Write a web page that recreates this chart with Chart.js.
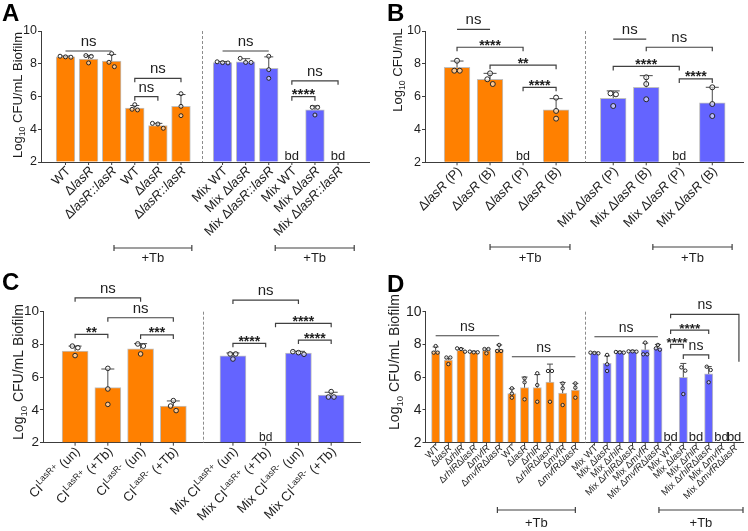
<!DOCTYPE html>
<html>
<head>
<meta charset="utf-8">
<script src="https://cdn.jsdelivr.net/npm/chart.js@4.4.1/dist/chart.umd.min.js"></script>
<style>
  html, body { margin: 0; padding: 0; background: #fff; }
  #wrap { position: relative; width: 748px; height: 531px; overflow: hidden; }
  #wrap canvas { position: absolute; }
</style>
</head>
<body>
<div id="wrap">
  <canvas id="panelA" width="374" height="265" style="left:0;top:0"></canvas>
  <canvas id="panelB" width="374" height="265" style="left:374px;top:0"></canvas>
  <canvas id="panelC" width="374" height="266" style="left:0;top:265px"></canvas>
  <canvas id="panelD" width="374" height="266" style="left:374px;top:265px"></canvas>
</div>
<script>
'use strict'

const FONT = "'Liberation Sans', Arial, Helvetica, sans-serif"
const ORANGE = '#ff8000'
const BLUE = '#6464ff'
const INK = '#1e1e1e'
const AXIS = '#3c3c3c'

// markup in labels: _italic_  ^superscript^  ~subscript~

// ---- panel A: biofilm, single vs mixed culture
const aLabels = ['WT', 'Δ_lasR_', 'Δ_lasR_::_lasR_', 'WT', 'Δ_lasR_', 'Δ_lasR_::_lasR_',
  'Mix WT', 'Mix Δ_lasR_', 'Mix Δ_lasR_::_lasR_', 'Mix WT', 'Mix Δ_lasR_', 'Mix Δ_lasR_::_lasR_']
const aMeans = [8.42, 8.29, 8.17, 5.3, 4.22, 5.4, 8.07, 8.11, 7.72, null, 5.18, null]
const aSD = [0.05, 0.22, 0.4, 0.15, 0.14, 0.72, 0.07, 0.2, 0.7, null, 0.25, null]
const aDots = [[8.4, 8.46, 8.42], [8.5, 8.45, 8.05], [8.62, 8.09, 7.82], [5.5, 5.22, 5.18],
  [4.36, 4.32, 4.06], [6.17, 5.4, 4.83], [8.05, 8.12, 8.07], [8.33, 8.08, 8.08],
  [8.46, 7.64, 7.11], null, [5.34, 5.34, 4.87], null]
// [from bar, to bar, level, label, kind]
const aSig = [
  [0, 2, 8.78, 'ns', 'line'],
  [3, 5, 7.11, 'ns', 'bracket'],
  [3, 4, 5.99, 'ns', 'bracket'],
  [6, 8, 8.78, 'ns', 'line'],
  [9, 11, 6.96, 'ns', 'bracket'],
  [9, 10, 5.99, '****', 'bracket'],
]
const aTb = [[2.1, 5.47], [8.28, 11.7]]

// ---- panel B: planktonic (P) vs biofilm (B)
const bLabels = ['Δ_lasR_ (P)', 'Δ_lasR_ (B)', 'Δ_lasR_ (P)', 'Δ_lasR_ (B)',
  'Mix Δ_lasR_ (P)', 'Mix Δ_lasR_ (B)', 'Mix Δ_lasR_ (P)', 'Mix Δ_lasR_ (B)']
const bMeans = [7.79, 7.06, null, 5.19, 5.9, 6.57, null, 5.63]
const bSD = [0.38, 0.36, null, 0.69, 0.45, 0.71, null, 0.94]
const bDots = [[8.19, 7.58, 7.58], [7.42, 7.06, 6.77], null, [5.94, 5.13, 4.66],
  [6.2, 6.14, 5.43], [7.18, 6.77, 5.84], null, [6.57, 5.55, 4.82]]
const bSig = [
  [0, 1, 10.1, 'ns', 'line'],
  [0, 2, 9.01, '****', 'bracket'],
  [1, 3, 7.92, '**', 'bracket'],
  [2, 3, 6.57, '****', 'bracket'],
  [4, 5, 9.5, 'ns', 'line'],
  [5, 7, 9.01, 'ns', 'bracket'],
  [4, 6, 7.84, '****', 'bracket'],
  [6, 7, 7.08, '****', 'bracket'],
]
const bTb = [[1.0, 3.42], [5.2, 7.6]]

// ---- panel C: clinical isolates
const cLabels = ['CI^LasR+^ (un)', 'CI^LasR+^ (+Tb)', 'CI^LasR-^ (un)', 'CI^LasR-^ (+Tb)',
  'Mix CI^LasR+^ (un)', 'Mix CI^LasR+^ (+Tb)', 'Mix CI^LasR-^ (un)', 'Mix CI^LasR-^ (+Tb)']
const cMeans = [7.6, 5.36, 7.74, 4.24, 7.3, null, 7.48, 4.91]
const cSD = [0.3, 1.14, 0.31, 0.31, 0.18, null, 0.1, 0.17]
const cDots = [[7.9, 7.8, 7.32], [6.54, 5.28, 4.34], [8.03, 7.9, 7.42], [4.57, 4.24, 3.96],
  [7.42, 7.42, 7.11], null, [7.56, 7.5, 7.4], [5.12, 4.79, 4.79]]
const cSig = [
  [0, 2, 10.85, 'ns', 'bracket'],
  [1, 3, 9.63, 'ns', 'bracket'],
  [0, 1, 8.62, '**', 'bracket'],
  [2, 3, 8.58, '***', 'bracket'],
  [4, 6, 10.71, 'ns', 'bracket'],
  [5.3, 7, 9.29, '****', 'bracket'],
  [4, 5, 8.07, '****', 'bracket'],
  [6, 7, 8.27, '****', 'bracket'],
]
const cTb = []

// ---- panel D: QS mutants
const dLabels = ['WT', 'Δ_lasR_', 'Δ_rhlR_', 'Δ_rhlR_Δ_lasR_', 'Δ_mvfR_', 'Δ_mvfR_Δ_lasR_',
  'WT', 'Δ_lasR_', 'Δ_rhlR_', 'Δ_rhlR_Δ_lasR_', 'Δ_mvfR_', 'Δ_mvfR_Δ_lasR_',
  'Mix WT', 'Mix Δ_lasR_', 'Mix Δ_rhlR_', 'Mix Δ_rhlR_Δ_lasR_', 'Mix Δ_mvfR_', 'Mix Δ_mvfR_Δ_lasR_',
  'Mix WT', 'Mix Δ_lasR_', 'Mix Δ_rhlR_', 'Mix Δ_rhlR_Δ_lasR_', 'Mix Δ_mvfR_', 'Mix Δ_mvfR_Δ_lasR_']
const dMeans = [7.6, 7.05, 7.64, 7.54, 7.63, 7.7, 5.0, 5.36, 5.36, 5.7, 5.03, 5.22,
  7.48, 6.85, 7.53, 7.56, 7.68, 7.8, null, 5.99, null, 6.2, null, null]
const dSD = [0.25, 0.12, 0.12, 0.05, 0.1, 0.27, 0.3, 0.65, 0.8, 1.1, 0.65, 0.4,
  0.05, 0.45, 0.05, 0.08, 0.4, 0.2, null, 0.85, null, 0.45, null, null]
const dDots = [[7.9, 7.5, 7.5], [7.2, 7.2, 6.8], [7.76, 7.72, 7.56], [7.56, 7.52, 7.52],
  [7.72, 7.72, 7.46], [7.97, 7.6, 7.6], [5.32, 5.0, 4.75], [5.93, 5.69, 4.65],
  [6.24, 5.52, 4.5], [6.38, 6.38, 4.5], [5.62, 5.32, 4.3], [5.62, 5.36, 4.75],
  [7.5, 7.48, 7.46], [7.36, 6.79, 6.38], [7.54, 7.52, 7.5], [7.58, 7.56, 7.58],
  [8.11, 7.4, 7.4], [7.97, 7.76, 7.68], null, [6.6, 6.4, 4.97],
  null, [6.64, 6.44, 5.69], null, null]
const dSig = [
  [0, 5, 8.53, 'ns', 'line'],
  [6, 11, 7.25, 'ns', 'line'],
  [12, 17, 8.47, 'ns', 'line'],
  [18, 23.38, 9.84, 'ns', 'bracket', 6.95],
  [18, 21, 8.88, '****', 'bracket'],
  [18, 19, 8.0, '****', 'bracket'],
  [19, 21, 7.36, 'ns', 'bracket'],
]
const dTb = [[4.86, 11.0], [17.08, 23.7]]

const panels = [
  {
    id: 'panelA', letter: 'A', letterX: 2, letterY: 21, W: 374, H: 265,
    labels: aLabels, means: aMeans, sd: aSD, dots: aDots, sig: aSig, tb: aTb,
    title: 'Log~10~ CFU/mL Biofilm', titleX: 21.5, titleY: 95,
    axisX: 41, top: 31, bottom: 162, right: 373, xMin: -1.06, xMax: 13.14,
    split: 6, gap: 0.8, divider: 5.9, barW: 18.7, capW: 9, dotR: 2, thr: 0.27, spread: 0.235,
    tickSize: 12.5, titleSize: 13, labSize: 13, labDx: 3, labDy: 7, nsSize: 15, starSize: 15,
    bdSize: 13, tbY: 248, tbTextY: 262,
  },
  {
    id: 'panelB', letter: 'B', letterX: 13, letterY: 21, W: 374, H: 265,
    labels: bLabels, means: bMeans, sd: bSD, dots: bDots, sig: bSig, tb: bTb,
    title: 'Log~10~ CFU/mL', titleX: 27.5, titleY: 70,
    axisX: 51, top: 31, bottom: 162.3, right: 371.7, xMin: -0.97, xMax: 8.66,
    split: 4, gap: 0.73, divider: 3.87, barW: 25.7, capW: 13, dotR: 2.5, thr: 0.3, spread: 0.165,
    tickSize: 12.5, titleSize: 13, labSize: 13, labDx: 3, labDy: 7, nsSize: 15, starSize: 14,
    bdSize: 12.5, tbY: 247, tbTextY: 262,
  },
  {
    id: 'panelC', letter: 'C', letterX: 2, letterY: 25, W: 374, H: 266,
    labels: cLabels, means: cMeans, sd: cSD, dots: cDots, sig: cSig, tb: cTb,
    title: 'Log~10~ CFU/mL Biofilm', titleX: 23, titleY: 107,
    axisX: 43, top: 46.7, bottom: 177.7, right: 360, xMin: -0.98, xMax: 8.7,
    split: 4, gap: 0.82, divider: 3.91, barW: 26, capW: 13, dotR: 2.3, thr: 0.3, spread: 0.17,
    tickSize: 13.5, titleSize: 14, labSize: 13, labDx: 3, labDy: 7, nsSize: 15, starSize: 14,
    bdSize: 12, tbY: 0, tbTextY: 0,
  },
  {
    id: 'panelD', letter: 'D', letterX: 13, letterY: 27, W: 374, H: 266,
    labels: dLabels, means: dMeans, sd: dSD, dots: dDots, sig: dSig, tb: dTb,
    title: 'Log~10~ CFU/mL Biofilm', titleX: 25, titleY: 97,
    axisX: 51.5, top: 46.7, bottom: 177.7, right: 373, xMin: -0.8, xMax: 24.2,
    split: 12, gap: 0.5, divider: 11.74, barW: 8.3, capW: 6, dotR: 1.7, thr: 0.2, spread: 0.31,
    tickSize: 14, titleSize: 14, labSize: 9.6, labDx: 2, labDy: 4, nsSize: 14, starSize: 13.5,
    bdSize: 13, tbY: 245, tbTextY: 262,
  },
]

function xOf(p, i) {
  return i + (i >= p.split - 0.5 ? p.gap : 0)
}

function parseRich(str) {
  const out = []
  let italic = false
  let sup = false
  let sub = false
  let buf = ''
  const push = () => {
    if (buf) out.push({ t: buf, italic, sup, sub })
    buf = ''
  }
  for (const ch of str) {
    if (ch === '_') { push(); italic = !italic }
    else if (ch === '^') { push(); sup = !sup }
    else if (ch === '~') { push(); sub = !sub }
    else buf += ch
  }
  push()
  return out
}

function segFont(seg, size) {
  const s = seg.sup || seg.sub ? size * 0.68 : size
  return `${seg.italic ? 'italic ' : ''}${s}px ${FONT}`
}

function drawRich(ctx, str, x, y, size, align) {
  const segs = parseRich(str)
  let w = 0
  segs.forEach((s) => {
    ctx.font = segFont(s, size)
    s.w = ctx.measureText(s.t).width
    w += s.w
  })
  let cx = align === 'right' ? x - w : align === 'center' ? x - w / 2 : x
  ctx.textAlign = 'left'
  segs.forEach((s) => {
    ctx.font = segFont(s, size)
    const dy = s.sup ? -size * 0.36 : s.sub ? size * 0.28 : 0
    ctx.fillText(s.t, cx, y + dy)
    cx += s.w
  })
}

function seg(ctx, x1, y1, x2, y2) {
  ctx.beginPath()
  ctx.moveTo(x1, y1)
  ctx.lineTo(x2, y2)
  ctx.stroke()
}

// Prism-style spread: points with close values sit side by side
function spreadOffsets(vals, thr, spread) {
  const order = vals.map((_, i) => i).sort((a, b) => vals[b] - vals[a])
  const off = vals.map(() => 0)
  let group = [order[0]]
  const flush = () => {
    group.forEach((k, j) => { off[k] = (j - (group.length - 1) / 2) * spread })
  }
  for (let j = 1; j < order.length; j++) {
    if (Math.abs(vals[order[j]] - vals[group[group.length - 1]]) < thr) group.push(order[j])
    else { flush(); group = [order[j]] }
  }
  flush()
  return off
}

function drawErrorBars(chart, p) {
  const { ctx, scales: { x: xs, y: ys } } = chart
  ctx.save()
  ctx.strokeStyle = '#4a4a4a'
  ctx.lineWidth = 1
  p.means.forEach((m, i) => {
    if (m === null || !p.sd[i]) return
    const x = xs.getPixelForValue(xOf(p, i))
    const y0 = ys.getPixelForValue(m)
    const y1 = ys.getPixelForValue(m + p.sd[i])
    seg(ctx, x, y0, x, y1)
    seg(ctx, x - p.capW / 2, y1, x + p.capW / 2, y1)
  })
  ctx.restore()
}

function drawDecor(chart, p) {
  const { ctx, chartArea: area, scales: { x: xs, y: ys } } = chart
  ctx.save()

  // dashed divider between single and mixed culture
  ctx.strokeStyle = '#8c8c8c'
  ctx.lineWidth = 1
  ctx.setLineDash([3, 2])
  const dvx = Math.round(xs.getPixelForValue(p.divider)) + 0.5
  seg(ctx, dvx, area.top, dvx, area.bottom)
  ctx.setLineDash([])

  // x ticks + rotated category labels
  ctx.strokeStyle = AXIS
  ctx.fillStyle = INK
  p.labels.forEach((lab, i) => {
    const x = xs.getPixelForValue(xOf(p, i))
    seg(ctx, x, area.bottom, x, area.bottom + 3)
    ctx.save()
    ctx.translate(x + p.labDx, area.bottom + p.labDy)
    ctx.rotate(-Math.PI / 4)
    ctx.textBaseline = 'middle'
    drawRich(ctx, lab, 0, 0, p.labSize, 'right')
    ctx.restore()
  })

  // below detection
  ctx.textBaseline = 'alphabetic'
  p.means.forEach((m, i) => {
    if (m === null) drawRich(ctx, 'bd', xs.getPixelForValue(xOf(p, i)), area.bottom - 2, p.bdSize, 'center')
  })

  // significance lines and brackets
  ctx.strokeStyle = '#404040'
  ctx.lineWidth = 1.2
  p.sig.forEach(([i1, i2, v, label, kind, dropTo]) => {
    const x1 = xs.getPixelForValue(xOf(p, i1))
    const x2 = xs.getPixelForValue(xOf(p, i2))
    const y = ys.getPixelForValue(v)
    ctx.beginPath()
    if (kind === 'bracket') {
      const yEnd = dropTo != null ? ys.getPixelForValue(dropTo) : y + 4
      ctx.moveTo(x1, y + 4)
      ctx.lineTo(x1, y)
      ctx.lineTo(x2, y)
      ctx.lineTo(x2, yEnd)
    } else {
      ctx.moveTo(x1, y)
      ctx.lineTo(x2, y)
    }
    ctx.stroke()
    const star = label.includes('*')
    ctx.font = star ? `bold ${p.starSize}px ${FONT}` : `${p.nsSize}px ${FONT}`
    ctx.textAlign = 'center'
    ctx.fillText(label, (x1 + x2) / 2, star ? y + 2.5 : y - 5)
  })

  // treatment groups
  p.tb.forEach(([a, b]) => {
    const x1 = xs.getPixelForValue(xOf(p, a))
    const x2 = xs.getPixelForValue(xOf(p, b))
    seg(ctx, x1, p.tbY, x2, p.tbY)
    seg(ctx, x1, p.tbY - 3, x1, p.tbY + 3)
    seg(ctx, x2, p.tbY - 3, x2, p.tbY + 3)
    drawRich(ctx, '+Tb', (x1 + x2) / 2, p.tbTextY, 13, 'center')
  })

  // y title
  ctx.save()
  ctx.translate(p.titleX, p.titleY)
  ctx.rotate(-Math.PI / 2)
  drawRich(ctx, p.title, 0, 0, p.titleSize, 'center')
  ctx.restore()

  // panel letter
  ctx.font = `bold 24px ${FONT}`
  ctx.textAlign = 'left'
  ctx.fillStyle = '#000'
  ctx.fillText(p.letter, p.letterX, p.letterY)

  ctx.restore()
}

function buildPanel(p) {
  const bars = p.means.map((v, i) => ({ x: xOf(p, i), y: v }))
  const dots = []
  p.dots.forEach((vals, i) => {
    if (!vals) return
    const off = spreadOffsets(vals, p.thr, p.spread)
    vals.forEach((v, k) => dots.push({ x: xOf(p, i) + off[k], y: v }))
  })
  const colors = p.means.map((_, i) => (i < p.split ? ORANGE : BLUE))

  return new Chart(document.getElementById(p.id), {
    type: 'bar',
    data: {
      datasets: [
        {
          type: 'scatter',
          data: dots,
          order: 0,
          pointRadius: p.dotR,
          pointBorderWidth: 1,
          borderColor: '#262626',
          pointBorderColor: '#262626',
          backgroundColor: 'rgba(255,255,255,0.55)',
          pointBackgroundColor: 'rgba(255,255,255,0.55)',
          clip: false,
        },
        {
          type: 'bar',
          data: bars,
          order: 1,
          backgroundColor: colors,
          borderColor: 'rgba(185,185,185,0.9)',
          borderWidth: 1,
          barThickness: p.barW,
          base: 2,
        },
      ],
    },
    options: {
      responsive: false,
      animation: false,
      events: [],
      layout: { padding: { left: 0, top: p.top, right: p.W - p.right, bottom: p.H - p.bottom } },
      plugins: { legend: { display: false }, tooltip: { enabled: false } },
      scales: {
        x: {
          type: 'linear',
          min: p.xMin,
          max: p.xMax,
          offset: false,
          grid: { display: false },
          ticks: { display: false },
          border: { color: AXIS, width: 1 },
          afterFit(s) { s.height = 0 },
        },
        y: {
          min: 2,
          max: 10,
          ticks: { stepSize: 2, color: INK, padding: 1, font: { family: FONT, size: p.tickSize } },
          grid: { drawOnChartArea: false, tickLength: 3, color: AXIS },
          border: { color: AXIS, width: 1 },
          afterFit(s) { s.width = p.axisX },
        },
      },
    },
    plugins: [{
      id: 'figure' + p.letter,
      afterDatasetDraw(chart, args) {
        if (args.meta.type === 'bar') drawErrorBars(chart, p)
      },
      afterDraw(chart) { drawDecor(chart, p) },
    }],
  })
}

panels.forEach(buildPanel)
</script>
</body>
</html>
